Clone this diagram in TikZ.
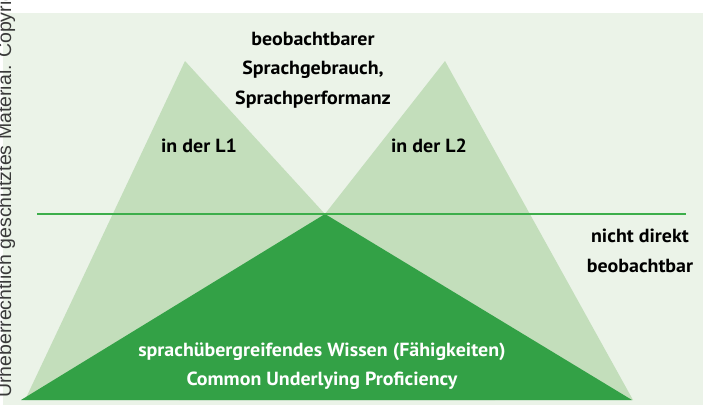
\documentclass[tikz,border=0pt]{standalone}
\usepackage{fontspec}
\setmainfont{PT Sans}
\newfontfamily\markfont{Liberation Sans}
\newfontfamily\lblfont[FakeStretch=1.05]{PT Sans}
\usetikzlibrary{positioning}

\definecolor{panelgreen}{HTML}{EBF3E8}
\definecolor{palegreen}{HTML}{C3DEBB}
\definecolor{deepgreen}{HTML}{33A146}
\definecolor{linegreen}{HTML}{3DAE4B}
\definecolor{markgray}{HTML}{3A3A3A}

\begin{document}
\begin{tikzpicture}[
    x=1pt, y=-1pt,
    lbl/.style={
        font=\lblfont\fontsize{19}{29.5}\selectfont\bfseries,
        align=center, inner sep=0pt, text=black,
    },
    cuplbl/.style={lbl, text=white},
    peak/.style={fill=palegreen},
    base/.style={fill=deepgreen},
    border/.style={draw=linegreen, line width=2.2pt},
]
\useasboundingbox (0,0) rectangle (703,405);
\clip (0,0) rectangle (703,405);

% --- Panel ---------------------------------------------------
\fill[panelgreen] (3,13) rectangle (703,405);

% --- Corner points -------------------------------------------
\coordinate (lonetop) at (185,61);
\coordinate (ltwotop) at (445,61);
\coordinate (cuptop)  at (325,214);
\coordinate (limitL)  at (37,214);
\coordinate (limitR)  at (686,214);

% --- Two surface peaks, one shared base ----------------------
\fill[peak] (25,400) -- (lonetop) -- (495,400) -- cycle;
\fill[peak] (179,400) -- (ltwotop) -- (633,400) -- cycle;
\fill[base] (21,400) -- (cuptop) -- (632,400) -- cycle;

% --- Surface line --------------------------------------------
\draw[border] (limitL) -- (cuptop) -- (limitR);

% --- Labels --------------------------------------------------
\node[lbl] (surface) at (313,70)
    {beobachtbarer\\Sprachgebrauch,\\Sprachperformanz};
\node[lbl] (lone) at (199,146) {in der L1};
\node[lbl] (ltwo) at (429,146) {in der L2};
\node[lbl] (hidden) at (640,251) {nicht direkt\\beobachtbar};
\node[cuplbl] (cup) at (322,366)
    {sprachübergreifendes Wissen (Fähigkeiten)\\Common Underlying Proficiency};

% --- Side mark -----------------------------------------------
\node[rotate=90, anchor=base west, inner sep=0pt, text=markgray,
      font=\markfont\fontsize{19.5}{19.5}\selectfont] (mark) at (11,398)
    {Urheberrechtlich geschütztes Material. Copyright};

\end{tikzpicture}
\end{document}
